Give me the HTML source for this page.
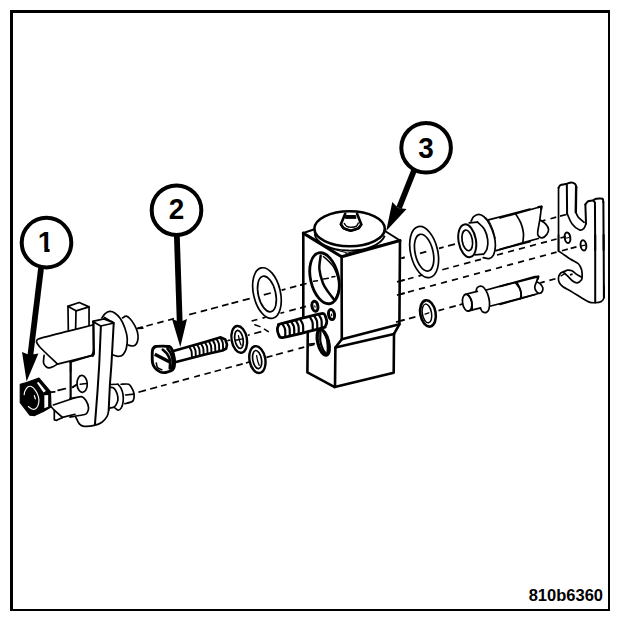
<!DOCTYPE html>
<html lang="en"><head><meta charset="utf-8"><title>810b6360</title>
<style>
html,body{margin:0;padding:0;background:#fff}
body{width:640px;height:626px;overflow:hidden;position:relative;font-family:"Liberation Sans",sans-serif}
svg{position:absolute;left:0;top:0;display:block}
text{font-family:"Liberation Sans",sans-serif;font-weight:bold;fill:#000}
</style></head><body>
<svg width="640" height="626" viewBox="0 0 640 626">
<rect x="0" y="0" width="640" height="626" fill="#fff"/>
<defs><clipPath id="c1"><rect x="-12" y="-26" width="24" height="22.5"/><rect x="-1.2" y="-26" width="5.6" height="30"/></clipPath></defs>
<path d="M10 10H610V611H10Z M13 13V609H608V13Z" fill="#000" fill-rule="evenodd"/>
<path d="M137.7 328.3 L142.8 326.946" fill="none" stroke="#000" stroke-width="1.7" stroke-linejoin="round" stroke-linecap="butt"/>
<path d="M146.4 325.99 L152.8 324.291" fill="none" stroke="#000" stroke-width="1.7" stroke-linejoin="round" stroke-linecap="butt"/>
<path d="M157.3 323.096 L163.6 321.424" fill="none" stroke="#000" stroke-width="1.7" stroke-linejoin="round" stroke-linecap="butt"/>
<path d="M168.1 320.229 L174 318.662" fill="none" stroke="#000" stroke-width="1.7" stroke-linejoin="round" stroke-linecap="butt"/>
<path d="M189.2 314.627 L196.2 312.768" fill="none" stroke="#000" stroke-width="1.7" stroke-linejoin="round" stroke-linecap="butt"/>
<path d="M200.7 311.574 L207.1 309.874" fill="none" stroke="#000" stroke-width="1.7" stroke-linejoin="round" stroke-linecap="butt"/>
<path d="M211 308.839 L218 306.98" fill="none" stroke="#000" stroke-width="1.7" stroke-linejoin="round" stroke-linecap="butt"/>
<path d="M222 305.918 L228.5 304.193" fill="none" stroke="#000" stroke-width="1.7" stroke-linejoin="round" stroke-linecap="butt"/>
<path d="M231.5 303.396 L238.2 301.617" fill="none" stroke="#000" stroke-width="1.7" stroke-linejoin="round" stroke-linecap="butt"/>
<path d="M242.7 300.423 L249.7 298.564" fill="none" stroke="#000" stroke-width="1.7" stroke-linejoin="round" stroke-linecap="butt"/>
<path d="M263.8 294.82 L270.8 292.962" fill="none" stroke="#000" stroke-width="1.7" stroke-linejoin="round" stroke-linecap="butt"/>
<path d="M281.6 290.095 L285.5 289.059" fill="none" stroke="#000" stroke-width="1.7" stroke-linejoin="round" stroke-linecap="butt"/>
<path d="M290 287.864 L296.3 286.192" fill="none" stroke="#000" stroke-width="1.7" stroke-linejoin="round" stroke-linecap="butt"/>
<path d="M300.2 285.156 L306.6 283.457" fill="none" stroke="#000" stroke-width="1.7" stroke-linejoin="round" stroke-linecap="butt"/>
<path d="M401.4 258.288 L404.6 257.438" fill="none" stroke="#000" stroke-width="1.7" stroke-linejoin="round" stroke-linecap="butt"/>
<path d="M420 253.349 L426.3 251.677" fill="none" stroke="#000" stroke-width="1.7" stroke-linejoin="round" stroke-linecap="butt"/>
<path d="M439 248.305 L443.6 247.084" fill="none" stroke="#000" stroke-width="1.7" stroke-linejoin="round" stroke-linecap="butt"/>
<path d="M448 245.915 L455 244.057" fill="none" stroke="#000" stroke-width="1.7" stroke-linejoin="round" stroke-linecap="butt"/>
<path d="M541 221.224 L545.4 220.056" fill="none" stroke="#000" stroke-width="1.7" stroke-linejoin="round" stroke-linecap="butt"/>
<path d="M550.5 218.702 L556.2 217.188" fill="none" stroke="#000" stroke-width="1.7" stroke-linejoin="round" stroke-linecap="butt"/>
<path d="M560 216.179 L566.5 214.454" fill="none" stroke="#000" stroke-width="1.7" stroke-linejoin="round" stroke-linecap="butt"/>
<path d="M138.4 392.2 L146 390.133" fill="none" stroke="#000" stroke-width="1.7" stroke-linejoin="round" stroke-linecap="butt"/>
<path d="M150.1 389.018 L157.1 387.114" fill="none" stroke="#000" stroke-width="1.7" stroke-linejoin="round" stroke-linecap="butt"/>
<path d="M161 386.053 L166.7 384.502" fill="none" stroke="#000" stroke-width="1.7" stroke-linejoin="round" stroke-linecap="butt"/>
<path d="M172.5 382.925 L178.9 381.184" fill="none" stroke="#000" stroke-width="1.7" stroke-linejoin="round" stroke-linecap="butt"/>
<path d="M182.7 380.15 L189.1 378.41" fill="none" stroke="#000" stroke-width="1.7" stroke-linejoin="round" stroke-linecap="butt"/>
<path d="M194.2 377.022 L200 375.445" fill="none" stroke="#000" stroke-width="1.7" stroke-linejoin="round" stroke-linecap="butt"/>
<path d="M204.4 374.248 L210.8 372.507" fill="none" stroke="#000" stroke-width="1.7" stroke-linejoin="round" stroke-linecap="butt"/>
<path d="M214.6 371.474 L221 369.733" fill="none" stroke="#000" stroke-width="1.7" stroke-linejoin="round" stroke-linecap="butt"/>
<path d="M225.4 368.536 L231.8 366.795" fill="none" stroke="#000" stroke-width="1.7" stroke-linejoin="round" stroke-linecap="butt"/>
<path d="M236.3 365.571 L242.7 363.83" fill="none" stroke="#000" stroke-width="1.7" stroke-linejoin="round" stroke-linecap="butt"/>
<path d="M245.9 362.96 L249.7 361.926" fill="none" stroke="#000" stroke-width="1.7" stroke-linejoin="round" stroke-linecap="butt"/>
<path d="M266.4 357.384 L272.5 355.725" fill="none" stroke="#000" stroke-width="1.7" stroke-linejoin="round" stroke-linecap="butt"/>
<path d="M276 354.773 L282.8 352.923" fill="none" stroke="#000" stroke-width="1.7" stroke-linejoin="round" stroke-linecap="butt"/>
<path d="M287.6 351.618 L293.3 350.067" fill="none" stroke="#000" stroke-width="1.7" stroke-linejoin="round" stroke-linecap="butt"/>
<path d="M298.5 348.653 L304.2 347.102" fill="none" stroke="#000" stroke-width="1.7" stroke-linejoin="round" stroke-linecap="butt"/>
<path d="M309.3 345.715 L314.4 344.328" fill="none" stroke="#000" stroke-width="1.7" stroke-linejoin="round" stroke-linecap="butt"/>
<path d="M401.4 320.664 L404.6 319.794" fill="none" stroke="#000" stroke-width="1.7" stroke-linejoin="round" stroke-linecap="butt"/>
<path d="M409 318.597 L415.4 316.856" fill="none" stroke="#000" stroke-width="1.7" stroke-linejoin="round" stroke-linecap="butt"/>
<path d="M438.5 310.573 L444.2 309.022" fill="none" stroke="#000" stroke-width="1.7" stroke-linejoin="round" stroke-linecap="butt"/>
<path d="M449.3 307.635 L455.7 305.894" fill="none" stroke="#000" stroke-width="1.7" stroke-linejoin="round" stroke-linecap="butt"/>
<path d="M459.5 304.861 L463.4 303.8" fill="none" stroke="#000" stroke-width="1.7" stroke-linejoin="round" stroke-linecap="butt"/>
<path d="M540.3 282.883 L544.7 281.686" fill="none" stroke="#000" stroke-width="1.7" stroke-linejoin="round" stroke-linecap="butt"/>
<path d="M549.4 280.408 L555.5 278.749" fill="none" stroke="#000" stroke-width="1.7" stroke-linejoin="round" stroke-linecap="butt"/>
<path d="M570 274.805 L572.6 274.098" fill="none" stroke="#000" stroke-width="1.7" stroke-linejoin="round" stroke-linecap="butt"/>
<path d="M251.6 321.02 L257.4 319.459" fill="none" stroke="#000" stroke-width="1.7" stroke-linejoin="round" stroke-linecap="butt"/>
<path d="M262.5 318.088 L265.7 317.227" fill="none" stroke="#000" stroke-width="1.7" stroke-linejoin="round" stroke-linecap="butt"/>
<path d="M280.4 313.272 L284.2 312.25" fill="none" stroke="#000" stroke-width="1.7" stroke-linejoin="round" stroke-linecap="butt"/>
<path d="M289.3 310.878 L295.7 309.157" fill="none" stroke="#000" stroke-width="1.7" stroke-linejoin="round" stroke-linecap="butt"/>
<path d="M300.2 307.946 L306 306.386" fill="none" stroke="#000" stroke-width="1.7" stroke-linejoin="round" stroke-linecap="butt"/>
<path d="M401.4 280.723 L404.6 279.863" fill="none" stroke="#000" stroke-width="1.7" stroke-linejoin="round" stroke-linecap="butt"/>
<path d="M408 278.948 L413.5 277.469" fill="none" stroke="#000" stroke-width="1.7" stroke-linejoin="round" stroke-linecap="butt"/>
<path d="M418.5 276.124 L422.5 275.048" fill="none" stroke="#000" stroke-width="1.7" stroke-linejoin="round" stroke-linecap="butt"/>
<path d="M442.3 269.721 L448.7 268" fill="none" stroke="#000" stroke-width="1.7" stroke-linejoin="round" stroke-linecap="butt"/>
<path d="M453.2 266.789 L459 265.229" fill="none" stroke="#000" stroke-width="1.7" stroke-linejoin="round" stroke-linecap="butt"/>
<path d="M464 263.884 L470.4 262.162" fill="none" stroke="#000" stroke-width="1.7" stroke-linejoin="round" stroke-linecap="butt"/>
<path d="M475 260.925 L481 259.311" fill="none" stroke="#000" stroke-width="1.7" stroke-linejoin="round" stroke-linecap="butt"/>
<path d="M497 255.007 L503 253.393" fill="none" stroke="#000" stroke-width="1.7" stroke-linejoin="round" stroke-linecap="butt"/>
<path d="M508 252.048 L514 250.434" fill="none" stroke="#000" stroke-width="1.7" stroke-linejoin="round" stroke-linecap="butt"/>
<path d="M519 249.089 L525 247.475" fill="none" stroke="#000" stroke-width="1.7" stroke-linejoin="round" stroke-linecap="butt"/>
<path d="M530 246.13 L536 244.516" fill="none" stroke="#000" stroke-width="1.7" stroke-linejoin="round" stroke-linecap="butt"/>
<path d="M541 243.171 L547 241.557" fill="none" stroke="#000" stroke-width="1.7" stroke-linejoin="round" stroke-linecap="butt"/>
<path d="M551 240.481 L556.6 238.975" fill="none" stroke="#000" stroke-width="1.7" stroke-linejoin="round" stroke-linecap="butt"/>
<path d="M560.4 237.952 L566 236.446" fill="none" stroke="#000" stroke-width="1.7" stroke-linejoin="round" stroke-linecap="butt"/>
<path d="M227.4 340.729 L230 340.03" fill="none" stroke="#000" stroke-width="1.7" stroke-linejoin="round" stroke-linecap="butt"/>
<path d="M247.8 335.242 L249.7 334.731" fill="none" stroke="#000" stroke-width="1.7" stroke-linejoin="round" stroke-linecap="butt"/>
<path d="M254.2 333.52 L261.2 331.637" fill="none" stroke="#000" stroke-width="1.7" stroke-linejoin="round" stroke-linecap="butt"/>
<path d="M401.4 293.923 L404.6 293.063" fill="none" stroke="#000" stroke-width="1.7" stroke-linejoin="round" stroke-linecap="butt"/>
<path d="M408 292.148 L414 290.534" fill="none" stroke="#000" stroke-width="1.7" stroke-linejoin="round" stroke-linecap="butt"/>
<path d="M419 289.189 L425 287.575" fill="none" stroke="#000" stroke-width="1.7" stroke-linejoin="round" stroke-linecap="butt"/>
<path d="M430 286.23 L436 284.616" fill="none" stroke="#000" stroke-width="1.7" stroke-linejoin="round" stroke-linecap="butt"/>
<path d="M441 283.271 L447 281.657" fill="none" stroke="#000" stroke-width="1.7" stroke-linejoin="round" stroke-linecap="butt"/>
<path d="M452 280.312 L458 278.698" fill="none" stroke="#000" stroke-width="1.7" stroke-linejoin="round" stroke-linecap="butt"/>
<path d="M463 277.353 L469 275.739" fill="none" stroke="#000" stroke-width="1.7" stroke-linejoin="round" stroke-linecap="butt"/>
<path d="M474 274.394 L480 272.78" fill="none" stroke="#000" stroke-width="1.7" stroke-linejoin="round" stroke-linecap="butt"/>
<path d="M485 271.435 L491 269.821" fill="none" stroke="#000" stroke-width="1.7" stroke-linejoin="round" stroke-linecap="butt"/>
<path d="M496 268.476 L502 266.862" fill="none" stroke="#000" stroke-width="1.7" stroke-linejoin="round" stroke-linecap="butt"/>
<path d="M507 265.517 L513 263.903" fill="none" stroke="#000" stroke-width="1.7" stroke-linejoin="round" stroke-linecap="butt"/>
<path d="M518 262.558 L524 260.944" fill="none" stroke="#000" stroke-width="1.7" stroke-linejoin="round" stroke-linecap="butt"/>
<path d="M529 259.599 L535 257.985" fill="none" stroke="#000" stroke-width="1.7" stroke-linejoin="round" stroke-linecap="butt"/>
<path d="M540 256.64 L546 255.026" fill="none" stroke="#000" stroke-width="1.7" stroke-linejoin="round" stroke-linecap="butt"/>
<path d="M551 253.681 L556.6 252.175" fill="none" stroke="#000" stroke-width="1.7" stroke-linejoin="round" stroke-linecap="butt"/>
<path d="M562 250.722 L567.8 249.162" fill="none" stroke="#000" stroke-width="1.7" stroke-linejoin="round" stroke-linecap="butt"/>
<path d="M570.7 248.382 L576.5 246.822" fill="none" stroke="#000" stroke-width="1.7" stroke-linejoin="round" stroke-linecap="butt"/>
<path d="M254.8 324.7 L260 326.6" fill="none" stroke="#000" stroke-width="1.5" stroke-linejoin="round" stroke-linecap="round"/>
<path d="M264.4 329.2 L268.3 331.7" fill="none" stroke="#000" stroke-width="1.5" stroke-linejoin="round" stroke-linecap="round"/>
<path d="M72.6 387.3 L76.4 384.8" fill="none" stroke="#000" stroke-width="1.5" stroke-linejoin="round" stroke-linecap="round"/>
<path d="M67.7 306.36 L79.2 302.52 L89.04 306.87 L76.01 310.83 Z" fill="#fff" stroke="#000" stroke-width="1.7" stroke-linejoin="round" stroke-linecap="round"/>
<path d="M67.96 306.36 L68.34 330.89" fill="none" stroke="#000" stroke-width="1.7" stroke-linejoin="round" stroke-linecap="round"/>
<path d="M76.01 310.83 L75.62 328.59" fill="none" stroke="#000" stroke-width="1.7" stroke-linejoin="round" stroke-linecap="round"/>
<path d="M89.04 306.87 L89.04 325.14" fill="none" stroke="#000" stroke-width="1.7" stroke-linejoin="round" stroke-linecap="round"/>
<path d="M92.62 325.02 C89.79 325.74 74.45 329.60 68.34 331.15 C62.23 332.70 43.87 337.27 40.22 338.31 C36.57 339.35 37.45 339.62 37.03 340.1 C36.61 340.58 36.28 341.54 36.65 342.4 C37.02 343.26 37.79 344.98 40.22 347.51 C42.65 350.04 55.47 362.18 57.48 364.12" fill="none" stroke="#000" stroke-width="1.7" stroke-linejoin="round" stroke-linecap="round"/>
<path d="M57.48 364.12 L92.62 355.43" fill="none" stroke="#000" stroke-width="1.7" stroke-linejoin="round" stroke-linecap="round"/>
<path d="M44.06 355.43 C43.98 356.67 43.23 360.96 43.55 362.84 C43.87 364.71 45.03 365.83 45.97 366.68 C46.91 367.53 48.00 367.96 49.17 367.96 C50.34 367.96 51.62 367.32 53 366.68 C54.38 366.04 56.73 364.55 57.48 364.12" fill="none" stroke="#000" stroke-width="1.7" stroke-linejoin="round" stroke-linecap="round"/>
<path d="M70.64 362.84 L70.64 371.79" fill="none" stroke="#000" stroke-width="1.7" stroke-linejoin="round" stroke-linecap="round"/>
<path d="M92.75 321.44 L103.87 318.88 L114.09 322.97 L100.67 326.04 Z" fill="none" stroke="#000" stroke-width="1.7" stroke-linejoin="round" stroke-linecap="round"/>
<path d="M93.39 321.69 L93.77 353.9 L92.75 355.69" fill="none" stroke="#000" stroke-width="2.4" stroke-linejoin="round" stroke-linecap="round"/>
<path d="M101.95 317.86 C102.48 317.16 103.86 314.70 105.14 313.64 C106.42 312.57 108.02 311.58 109.62 311.47 C111.22 311.36 112.92 311.79 114.73 313 C116.54 314.21 118.78 316.19 120.48 318.75 C122.18 321.31 123.82 325.04 124.95 328.34 C126.08 331.64 127.04 335.15 127.25 338.56 C127.46 341.97 126.93 346.13 126.23 348.79 C125.53 351.45 124.32 353.26 123.04 354.54 C121.76 355.82 120.27 356.39 118.56 356.45 C116.86 356.51 113.77 355.18 112.81 354.92" fill="none" stroke="#000" stroke-width="1.7" stroke-linejoin="round" stroke-linecap="round"/>
<path d="M122.65 317.86 C123.25 317.58 125.00 316.05 126.23 316.2 C127.47 316.35 128.68 317.26 130.06 318.75 C131.44 320.24 133.30 322.90 134.54 325.14 C135.78 327.38 136.90 329.93 137.48 332.17 C138.06 334.41 138.16 336.64 137.99 338.56 C137.82 340.48 137.24 342.44 136.45 343.67 C135.66 344.91 134.64 345.71 133.26 345.97 C131.88 346.23 129.00 345.34 128.15 345.21" fill="none" stroke="#000" stroke-width="1.7" stroke-linejoin="round" stroke-linecap="round"/>
<path d="M137.73 328.34 L142.84 328.08" fill="none" stroke="#000" stroke-width="1.7" stroke-linejoin="round" stroke-linecap="round"/>
<path d="M104.38 317.44 C104.94 317.78 106.29 318.66 107.73 319.46 C109.17 320.26 112.12 321.78 113 322.24" fill="none" stroke="#000" stroke-width="1.7" stroke-linejoin="round" stroke-linecap="round"/>
<path d="M100.9 326 L99.2 365 L97.6 390 L94.9 424.8" fill="none" stroke="#000" stroke-width="2" stroke-linejoin="round" stroke-linecap="round"/>
<path d="M113.7 323.5 L111.4 365 L109.9 384.5 L108.7 410" fill="none" stroke="#000" stroke-width="2" stroke-linejoin="round" stroke-linecap="round"/>
<path d="M108.72 410.06 C108.44 411.12 108.19 414.43 107.06 416.45 C105.93 418.47 104.08 420.71 101.95 422.2 C99.82 423.69 97.26 424.72 94.28 425.4 C91.30 426.08 86.51 426.50 84.06 426.29 C81.61 426.08 80.97 425.65 79.58 424.12 C78.19 422.59 76.39 418.26 75.75 417.09" fill="none" stroke="#000" stroke-width="1.7" stroke-linejoin="round" stroke-linecap="round"/>
<path d="M70 362.14 L91.98 355.37 L94.03 350" fill="none" stroke="#000" stroke-width="1.7" stroke-linejoin="round" stroke-linecap="round"/>
<path d="M70.64 362.14 L70.64 398.56" fill="none" stroke="#000" stroke-width="2.2" stroke-linejoin="round" stroke-linecap="round"/>
<ellipse cx="82.14" cy="383.87" rx="5.11" ry="8.43" transform="rotate(-3 82.14 383.87)" fill="none" stroke="#000" stroke-width="1.7"/>
<path d="M80.22 384.25 L86.61 383.48" fill="none" stroke="#000" stroke-width="1.7" stroke-linejoin="round" stroke-linecap="round"/>
<path d="M72.56 387.32 L76.39 384.76" fill="none" stroke="#000" stroke-width="1.7" stroke-linejoin="round" stroke-linecap="round"/>
<path d="M70 398.56 C71.15 398.37 79.90 396.46 81.5 396.65 C83.10 396.84 85.27 399.39 85.97 400.48 C86.67 401.57 88.40 406.30 88.53 407.51 C88.66 408.72 87.63 411.92 87.25 412.62 C86.87 413.32 86.42 414.09 84.7 414.54 C82.98 414.99 71.47 416.83 70 417.09" fill="none" stroke="#000" stroke-width="1.7" stroke-linejoin="round" stroke-linecap="round"/>
<path d="M109.87 384.5 L117.92 384.25" fill="none" stroke="#000" stroke-width="1.7" stroke-linejoin="round" stroke-linecap="round"/>
<path d="M110.89 387.32 C111.42 387.49 113.07 387.32 114.09 388.34 C115.11 389.36 116.39 391.53 117.03 393.45 C117.67 395.37 118.09 397.92 117.92 399.84 C117.75 401.76 116.65 403.78 116.01 404.95 C115.37 406.12 114.41 406.55 114.09 406.87" fill="none" stroke="#000" stroke-width="1.7" stroke-linejoin="round" stroke-linecap="round"/>
<path d="M117.92 384.25 C118.45 384.93 120.27 386.59 121.12 388.34 C121.97 390.09 122.72 392.39 123.04 394.73 C123.36 397.07 123.36 400.16 123.04 402.4 C122.72 404.64 121.97 406.87 121.12 408.15 C120.27 409.43 119.09 410.17 117.92 410.06 C116.75 409.95 115.47 407.83 114.09 407.51 C112.71 407.19 110.37 408.04 109.62 408.15" fill="none" stroke="#000" stroke-width="1.7" stroke-linejoin="round" stroke-linecap="round"/>
<path d="M121.12 384.25 C121.89 384.25 127.64 383.71 128.79 384.25 C129.94 384.79 132.08 388.57 132.62 389.62 C133.16 390.67 134.09 393.64 134.15 394.73 C134.21 395.82 133.67 399.71 133.26 400.48 C132.85 401.25 130.89 402.08 130.06 402.4 C129.23 402.72 125.46 403.54 124.95 403.67" fill="none" stroke="#000" stroke-width="1.7" stroke-linejoin="round" stroke-linecap="round"/>
<path d="M125.59 394.98 L133.9 394.09" fill="none" stroke="#000" stroke-width="1.7" stroke-linejoin="round" stroke-linecap="round"/>
<path d="M53.34 404.98 L75 397.8" fill="none" stroke="#000" stroke-width="1.7" stroke-linejoin="round" stroke-linecap="round"/>
<path d="M50.65 406.23 L54.3 410.26 L62.44 417.44" fill="none" stroke="#000" stroke-width="1.7" stroke-linejoin="round" stroke-linecap="round"/>
<path d="M54.3 410.26 L54.3 419.84 L56.69 420.32 L62.44 417.44" fill="none" stroke="#000" stroke-width="1.7" stroke-linejoin="round" stroke-linecap="round"/>
<path d="M62.44 417.44 L75 414.28" fill="none" stroke="#000" stroke-width="1.7" stroke-linejoin="round" stroke-linecap="round"/>
<path d="M20.27 384.38 L26.5 382.46 L38.96 378.15 L50.46 391.57 L50.94 406.9 L43.75 411.21 L34.65 415.53 L29.86 415.05 L20.27 402.59 Z" fill="#000" stroke="#000" stroke-width="1.2" stroke-linejoin="round" stroke-linecap="round"/>
<path d="M36.85 382.65 L38.58 382.08 L45.86 391.09 L43.56 392.62 Z" fill="#fff" stroke="none" stroke-width="0" stroke-linejoin="round" stroke-linecap="round"/>
<path d="M44.33 395.21 L48.16 395.11 L48.16 406.81 L44.33 408.34 Z" fill="#fff" stroke="none" stroke-width="0" stroke-linejoin="round" stroke-linecap="round"/>
<path d="M28.42 406.61 C29.14 407.06 31.37 409.08 32.73 409.3 C34.09 409.52 35.56 409.08 36.57 407.96 C37.58 406.84 38.45 404.44 38.77 402.59 C39.09 400.74 39.01 398.84 38.48 396.84 C37.95 394.84 36.81 392.34 35.61 390.61 C34.41 388.88 32.65 387.05 31.29 386.49 C29.93 385.93 28.55 386.40 27.46 387.25 C26.38 388.10 25.32 390.32 24.78 391.57 C24.24 392.82 24.30 394.20 24.2 394.73" fill="none" stroke="#fff" stroke-width="1.15" stroke-linejoin="round" stroke-linecap="round"/>
<path d="M34.36 395.69 L35.32 398.95" fill="none" stroke="#fff" stroke-width="1.2" stroke-linejoin="round" stroke-linecap="round"/>
<path d="M50.94 392.04 L54.78 391.85" fill="none" stroke="#000" stroke-width="1.7" stroke-linejoin="round" stroke-linecap="round"/>
<path d="M58.13 390.32 L65.32 388.69" fill="none" stroke="#000" stroke-width="1.7" stroke-linejoin="round" stroke-linecap="round"/>
<path d="M172.5 351.2 L205 342 L220.8 337.3 L225.3 339.5 L227 344.5 L226.2 348.5 L222.5 350.6 L205 354.6 L175 362.3 Z" fill="#fff" stroke="#000" stroke-width="2.6" stroke-linejoin="round" stroke-linecap="round"/>
<path d="M189.5 347.28 C189.83 347.95 191.10 349.53 191.5 351.28 C191.90 353.03 191.83 356.70 191.9 357.78" fill="none" stroke="#000" stroke-width="1.9" stroke-linejoin="round" stroke-linecap="round"/>
<path d="M193.4 346.18 C193.73 346.85 195.00 348.43 195.4 350.18 C195.80 351.93 195.73 355.60 195.8 356.68" fill="none" stroke="#000" stroke-width="1.9" stroke-linejoin="round" stroke-linecap="round"/>
<path d="M197.3 345.08 C197.63 345.75 198.90 347.33 199.3 349.08 C199.70 350.83 199.63 354.50 199.7 355.58" fill="none" stroke="#000" stroke-width="1.9" stroke-linejoin="round" stroke-linecap="round"/>
<path d="M201.2 343.97 C201.53 344.64 202.80 346.22 203.2 347.97 C203.60 349.72 203.53 353.39 203.6 354.47" fill="none" stroke="#000" stroke-width="1.9" stroke-linejoin="round" stroke-linecap="round"/>
<path d="M205.1 342.87 C205.43 343.54 206.70 345.12 207.1 346.87 C207.50 348.62 207.43 352.29 207.5 353.37" fill="none" stroke="#000" stroke-width="1.9" stroke-linejoin="round" stroke-linecap="round"/>
<path d="M209 341.76 C209.33 342.43 210.60 344.01 211 345.76 C211.40 347.51 211.33 351.18 211.4 352.26" fill="none" stroke="#000" stroke-width="1.9" stroke-linejoin="round" stroke-linecap="round"/>
<path d="M212.9 340.66 C213.23 341.33 214.50 342.91 214.9 344.66 C215.30 346.41 215.23 350.08 215.3 351.16" fill="none" stroke="#000" stroke-width="1.9" stroke-linejoin="round" stroke-linecap="round"/>
<path d="M216.8 339.56 C217.13 340.23 218.40 341.81 218.8 343.56 C219.20 345.31 219.13 348.98 219.2 350.06" fill="none" stroke="#000" stroke-width="1.9" stroke-linejoin="round" stroke-linecap="round"/>
<path d="M220.7 338.45 C221.03 339.12 222.30 340.70 222.7 342.45 C223.10 344.20 223.03 347.87 223.1 348.95" fill="none" stroke="#000" stroke-width="1.9" stroke-linejoin="round" stroke-linecap="round"/>
<path d="M152.48 350.32 C152.86 348.44 153.81 346.94 155.73 346.49 C157.65 346.04 167.02 346.01 168.96 346.49 C170.90 346.97 171.67 348.84 172.32 350.61 C172.97 352.38 174.42 359.47 174.52 361.63 C174.62 363.79 174.22 367.85 173.18 369.11 C172.14 370.37 167.11 372.13 165.61 372.46 C164.11 372.79 161.56 372.48 160.34 371.98 C159.12 371.48 156.08 369.25 155.16 368.15 C154.24 367.05 152.79 364.67 152.48 362.59 C152.17 360.51 152.10 352.20 152.48 350.32 Z" fill="#fff" stroke="#000" stroke-width="2.9" stroke-linejoin="round" stroke-linecap="round"/>
<path d="M154.78 354.15 L170.69 362.4" fill="none" stroke="#000" stroke-width="3.4" stroke-linejoin="round" stroke-linecap="butt"/>
<path d="M162.73 349.65 C163.53 350.45 166.29 352.60 167.52 354.44 C168.75 356.28 169.74 358.35 170.11 360.67 C170.48 362.99 169.79 367.06 169.73 368.34" fill="none" stroke="#000" stroke-width="2.6" stroke-linejoin="round" stroke-linecap="round"/>
<path d="M167.52 348.69 C168.11 349.57 170.19 351.80 171.07 353.96 C171.95 356.12 172.67 359.23 172.8 361.63 C172.93 364.03 172.00 367.22 171.84 368.34" fill="none" stroke="#000" stroke-width="2.6" stroke-linejoin="round" stroke-linecap="round"/>
<path d="M156.31 363.07 C156.50 363.79 156.55 366.26 157.46 367.38 C158.37 368.50 161.05 369.38 161.77 369.78" fill="none" stroke="#000" stroke-width="1.6" stroke-linejoin="round" stroke-linecap="round"/>
<ellipse cx="239.25" cy="339.39" rx="7.67" ry="13.55" transform="rotate(-10 239.25 339.39)" fill="#fff" stroke="#000" stroke-width="2.4"/>
<ellipse cx="238.99" cy="339.39" rx="4.09" ry="9.20" transform="rotate(-10 238.99 339.39)" fill="#fff" stroke="#000" stroke-width="1.7"/>
<path d="M238.48 335.56 C238.65 336.41 239.07 339.07 239.5 340.67 C239.93 342.27 240.78 344.39 241.04 345.14" fill="none" stroke="#000" stroke-width="1.3" stroke-linejoin="round" stroke-linecap="round"/>
<ellipse cx="257.4" cy="359.58" rx="7.92" ry="13.55" transform="rotate(-10 257.4 359.58)" fill="#fff" stroke="#000" stroke-width="2.4"/>
<ellipse cx="257.14" cy="359.58" rx="4.35" ry="9.20" transform="rotate(-10 257.14 359.58)" fill="#fff" stroke="#000" stroke-width="1.7"/>
<path d="M256.63 355.75 C256.80 356.60 257.22 359.26 257.65 360.86 C258.08 362.46 258.93 364.59 259.19 365.34" fill="none" stroke="#000" stroke-width="1.3" stroke-linejoin="round" stroke-linecap="round"/>
<path d="M235.67 340.16 L242.7 338.88" fill="none" stroke="#000" stroke-width="1.5" stroke-linejoin="round" stroke-linecap="round"/>
<ellipse cx="266.95" cy="293.08" rx="13.42" ry="25.81" transform="rotate(-13 266.95 293.08)" fill="none" stroke="#000" stroke-width="1.7"/>
<ellipse cx="266.95" cy="293.98" rx="8.69" ry="18.15" transform="rotate(-13 266.95 293.98)" fill="none" stroke="#000" stroke-width="1.7"/>
<ellipse cx="424.14" cy="252.06" rx="13.55" ry="26.07" transform="rotate(-13 424.14 252.06)" fill="none" stroke="#000" stroke-width="1.7"/>
<ellipse cx="424.14" cy="252.7" rx="8.95" ry="18.79" transform="rotate(-13 424.14 252.7)" fill="none" stroke="#000" stroke-width="1.7"/>
<ellipse cx="427.97" cy="313.45" rx="7.67" ry="13.29" transform="rotate(-10 427.97 313.45)" fill="#fff" stroke="#000" stroke-width="2.6"/>
<ellipse cx="426.95" cy="313.45" rx="4.60" ry="9.46" transform="rotate(-10 426.95 313.45)" fill="#fff" stroke="#000" stroke-width="1.5"/>
<path d="M425.03 314.09 L428.87 312.81" fill="none" stroke="#000" stroke-width="1.3" stroke-linejoin="round" stroke-linecap="round"/>
<path d="M303.3 233 L314 229 L385 231 L400 240.5 L399.4 324.3 L394 333.9 L393.7 372.8 L334.7 387.1 L307.4 372.4 L307.8 330 L303.3 330 Z" fill="#fff" stroke="none" stroke-width="0" stroke-linejoin="round" stroke-linecap="round"/>
<path d="M303.3 233 L303.3 318" fill="none" stroke="#000" stroke-width="2.6" stroke-linejoin="round" stroke-linecap="round"/>
<path d="M307.8 330 L307.4 372.4 L334.7 387.1 L393.7 372.8 L394 333.9" fill="none" stroke="#000" stroke-width="2.6" stroke-linejoin="round" stroke-linecap="round"/>
<path d="M303.3 233.2 L341.6 256.8 L400 240.5" fill="none" stroke="#000" stroke-width="3" stroke-linejoin="round" stroke-linecap="round"/>
<path d="M341.6 256.8 L341.8 339.2 L335.4 347.5 L335 387" fill="none" stroke="#000" stroke-width="2.6" stroke-linejoin="round" stroke-linecap="round"/>
<path d="M400 240.5 L399.4 324.3 L394 333.9" fill="none" stroke="#000" stroke-width="2.6" stroke-linejoin="round" stroke-linecap="round"/>
<path d="M341.8 339.2 L399.4 324.3" fill="none" stroke="#000" stroke-width="2.6" stroke-linejoin="round" stroke-linecap="round"/>
<path d="M335.4 347.5 L394 333.9" fill="none" stroke="#000" stroke-width="2.6" stroke-linejoin="round" stroke-linecap="round"/>
<path d="M385 231 L400 240.5" fill="none" stroke="#000" stroke-width="2" stroke-linejoin="round" stroke-linecap="round"/>
<path d="M303.3 233 L314.5 229.3" fill="none" stroke="#000" stroke-width="2" stroke-linejoin="round" stroke-linecap="round"/>
<path d="M307 234.5 L332 249 L346 252.5" fill="none" stroke="#000" stroke-width="1.2" stroke-linejoin="round" stroke-linecap="round"/>
<path d="M346 253.5 L397.5 241" fill="none" stroke="#000" stroke-width="1.2" stroke-linejoin="round" stroke-linecap="round"/>
<path d="M314.6 230 A35.3 17.8 0 0 0 384.7 232 " fill="#fff" stroke="#000" stroke-width="1.8" transform="translate(0,3.6)"/>
<ellipse cx="349.6" cy="228.8" rx="35.2" ry="17.5" fill="#fff" stroke="#000" stroke-width="2.6"/>
<path d="M345.21 213.77 C345.21 213.77 340.86 224.25 340.86 224.25 C340.86 224.25 343.67 228.34 343.67 228.34 C343.67 228.34 350.70 230.64 350.7 230.64 C350.70 230.64 358.37 228.34 358.37 228.34 C358.37 228.34 361.31 224.50 361.31 224.5 C361.31 224.50 357.09 213.77 357.09 213.77" fill="#fff" stroke="#000" stroke-width="2.6" stroke-linejoin="round" stroke-linecap="round"/>
<path d="M340.86 224.25 C341.42 225.07 341.70 227.06 343.67 228.34 C345.64 229.62 347.76 230.64 350.7 230.64 C353.64 230.64 356.25 229.57 358.37 228.34 C360.49 227.11 360.72 225.27 361.31 224.5" fill="none" stroke="#000" stroke-width="2.2" stroke-linejoin="round" stroke-linecap="round"/>
<path d="M344.31 223.48 C344.74 223.97 345.70 225.78 346.87 226.42 C348.04 227.06 349.74 227.38 351.34 227.32 C352.94 227.26 355.28 226.76 356.45 226.04 C357.62 225.31 358.05 223.48 358.37 222.97" fill="none" stroke="#000" stroke-width="1.4" stroke-linejoin="round" stroke-linecap="round"/>
<path d="M346.23 215.56 L355.69 215.56 L355.94 218.37 L345.72 218.37 Z" fill="#000" stroke="#000" stroke-width="1" stroke-linejoin="round" stroke-linecap="round"/>
<ellipse cx="324.5" cy="278.24" rx="13.93" ry="25.94" transform="rotate(-13 324.5 278.24)" fill="#fff" stroke="#000" stroke-width="2.8"/>
<path d="M320.67 255.75 C320.46 257.99 319.01 264.59 319.39 269.17 C319.77 273.75 321.48 279.40 322.97 283.23 C324.46 287.06 326.49 289.45 328.34 292.17 C330.19 294.89 333.13 298.34 334.09 299.58" fill="none" stroke="#000" stroke-width="2.5" stroke-linejoin="round" stroke-linecap="round"/>
<path d="M323.48 256.39 C325.04 257.99 330.34 262.14 332.81 265.97 C335.28 269.80 337.27 275.66 338.31 279.39 C339.35 283.12 339.62 284.97 339.07 288.34 C338.51 291.70 335.66 297.71 334.98 299.58" fill="none" stroke="#000" stroke-width="1.4" stroke-linejoin="round" stroke-linecap="round"/>
<path d="M313.64 281.31 L317.48 280.67" fill="none" stroke="#000" stroke-width="1.5" stroke-linejoin="round" stroke-linecap="round"/>
<path d="M323.48 278.88 L328.34 278.37" fill="none" stroke="#000" stroke-width="1.5" stroke-linejoin="round" stroke-linecap="round"/>
<path d="M331.92 277.09 L334.98 276.45" fill="none" stroke="#000" stroke-width="1.5" stroke-linejoin="round" stroke-linecap="round"/>
<ellipse cx="314.92" cy="306.23" rx="2.94" ry="5.11" transform="rotate(-10 314.92 306.23)" fill="#fff" stroke="#000" stroke-width="3"/>
<path d="M314.79 305.85 L315.05 307.25" fill="none" stroke="#000" stroke-width="1.2" stroke-linejoin="round" stroke-linecap="round"/>
<ellipse cx="331.53" cy="314.54" rx="2.94" ry="5.11" transform="rotate(-10 331.53 314.54)" fill="#fff" stroke="#000" stroke-width="3"/>
<path d="M331.41 314.15 L331.66 315.56" fill="none" stroke="#000" stroke-width="1.2" stroke-linejoin="round" stroke-linecap="round"/>
<ellipse cx="323.23" cy="342.36" rx="5.37" ry="13.16" transform="rotate(-14 323.23 342.36)" fill="#fff" stroke="#000" stroke-width="3.3"/>
<path d="M320.42 332.14 C320.42 333.74 319.95 338.75 320.42 341.73 C320.89 344.71 322.27 348.07 323.23 350.03 C324.19 351.99 325.68 352.91 326.17 353.48" fill="none" stroke="#000" stroke-width="2.2" stroke-linejoin="round" stroke-linecap="round"/>
<path d="M323.74 332.78 C324.23 333.84 326.04 336.72 326.68 339.17 C327.32 341.62 327.46 345.24 327.57 347.48 C327.68 349.72 327.36 351.74 327.32 352.59" fill="none" stroke="#000" stroke-width="1.8" stroke-linejoin="round" stroke-linecap="round"/>
<path d="M307.89 344.28 L314.28 343.64" fill="none" stroke="#000" stroke-width="1.6" stroke-linejoin="round" stroke-linecap="round"/>
<path d="M300.2 285.156 L306.6 283.457" fill="none" stroke="#000" stroke-width="1.7" stroke-linejoin="round" stroke-linecap="butt"/>
<path d="M300.2 307.946 L306 306.386" fill="none" stroke="#000" stroke-width="1.7" stroke-linejoin="round" stroke-linecap="butt"/>
<path d="M309.3 345.715 L314.4 344.328" fill="none" stroke="#000" stroke-width="1.7" stroke-linejoin="round" stroke-linecap="butt"/>
<path d="M401.4 258.288 L404.6 257.438" fill="none" stroke="#000" stroke-width="1.7" stroke-linejoin="round" stroke-linecap="butt"/>
<path d="M397 281.907 L404.6 279.863" fill="none" stroke="#000" stroke-width="1.7" stroke-linejoin="round" stroke-linecap="butt"/>
<path d="M397 295.107 L404.6 293.063" fill="none" stroke="#000" stroke-width="1.7" stroke-linejoin="round" stroke-linecap="butt"/>
<path d="M396 322.133 L404.6 319.794" fill="none" stroke="#000" stroke-width="1.7" stroke-linejoin="round" stroke-linecap="butt"/>
<path d="M280.56 323.87 C284.13 322.91 317.74 314.33 321.45 313.64 C325.16 312.95 324.58 314.92 325.03 315.56 C325.48 316.20 326.80 320.40 326.82 321.31 C326.84 322.22 325.63 325.88 325.29 326.42 C324.95 326.96 326.30 326.90 322.73 327.83 C319.16 328.76 286.15 336.99 282.48 337.54 C278.81 338.09 279.07 335.18 278.64 334.47 C278.21 333.76 277.36 329.76 277.36 328.98 C277.36 328.20 278.37 325.57 278.64 325.14 C278.91 324.71 276.99 324.83 280.56 323.87 Z" fill="#fff" stroke="#000" stroke-width="2.8" stroke-linejoin="round" stroke-linecap="round"/>
<path d="M282.48 324.15 C282.91 324.98 284.56 327.09 285.03 329.14 C285.50 331.19 285.25 335.21 285.29 336.42" fill="none" stroke="#000" stroke-width="2.2" stroke-linejoin="round" stroke-linecap="round"/>
<path d="M286.95 323.04 C287.38 323.87 289.03 325.98 289.5 328.02 C289.97 330.06 289.72 334.09 289.76 335.3" fill="none" stroke="#000" stroke-width="2.2" stroke-linejoin="round" stroke-linecap="round"/>
<path d="M291.42 321.92 C291.85 322.75 293.51 324.85 293.98 326.9 C294.45 328.94 294.19 332.98 294.23 334.19" fill="none" stroke="#000" stroke-width="2.2" stroke-linejoin="round" stroke-linecap="round"/>
<path d="M295.89 320.8 C296.32 321.63 297.98 323.73 298.45 325.78 C298.92 327.82 298.67 331.86 298.71 333.07" fill="none" stroke="#000" stroke-width="2.2" stroke-linejoin="round" stroke-linecap="round"/>
<path d="M300.37 319.68 C300.80 320.51 302.45 322.62 302.92 324.66 C303.39 326.71 303.14 330.74 303.18 331.95" fill="none" stroke="#000" stroke-width="2.2" stroke-linejoin="round" stroke-linecap="round"/>
<path d="M309.95 317.28 C310.38 318.11 312.04 320.22 312.51 322.27 C312.98 324.31 312.72 328.34 312.76 329.55" fill="none" stroke="#000" stroke-width="2.2" stroke-linejoin="round" stroke-linecap="round"/>
<path d="M314.42 316.17 C314.85 317.00 316.51 319.11 316.98 321.15 C317.45 323.19 317.20 327.22 317.24 328.43" fill="none" stroke="#000" stroke-width="2.2" stroke-linejoin="round" stroke-linecap="round"/>
<path d="M318.9 315.05 C319.32 315.88 320.98 317.98 321.45 320.03 C321.92 322.07 321.67 326.11 321.71 327.32" fill="none" stroke="#000" stroke-width="2.2" stroke-linejoin="round" stroke-linecap="round"/>
<path d="M488.34 219.92 L530 209.06" fill="none" stroke="#000" stroke-width="1.7" stroke-linejoin="round" stroke-linecap="round"/>
<path d="M496.01 250.59 L530 241.65" fill="none" stroke="#000" stroke-width="1.7" stroke-linejoin="round" stroke-linecap="round"/>
<path d="M515.81 214.17 C516.66 215.66 519.65 219.93 520.93 223.12 C522.21 226.31 523.16 230.10 523.48 233.34 C523.80 236.58 522.95 241.01 522.84 242.54" fill="none" stroke="#000" stroke-width="1.7" stroke-linejoin="round" stroke-linecap="round"/>
<path d="M471.09 221.2 C471.51 220.45 472.36 217.86 473.64 216.73 C474.92 215.60 477.05 214.42 478.75 214.42 C480.45 214.42 482.06 215.07 483.87 216.73 C485.68 218.39 487.92 221.20 489.62 224.39 C491.32 227.58 493.13 232.27 494.09 235.89 C495.05 239.51 495.48 242.93 495.37 246.12 C495.26 249.31 494.51 252.97 493.45 255.06 C492.38 257.15 490.68 258.21 488.98 258.64 C487.28 259.07 484.19 257.79 483.23 257.62" fill="none" stroke="#000" stroke-width="1.7" stroke-linejoin="round" stroke-linecap="round"/>
<path d="M483.87 216.73 C484.62 217.26 486.85 217.79 488.34 219.92 C489.83 222.05 491.64 226.41 492.81 229.5 C493.98 232.59 494.94 236.96 495.37 238.45" fill="none" stroke="#000" stroke-width="1" stroke-linejoin="round" stroke-linecap="round"/>
<path d="M469.17 222.86 L477.48 222.09" fill="none" stroke="#000" stroke-width="1.7" stroke-linejoin="round" stroke-linecap="round"/>
<path d="M474.92 254.81 L483.23 254.04" fill="none" stroke="#000" stroke-width="1.7" stroke-linejoin="round" stroke-linecap="round"/>
<path d="M477.48 222.09 C478.65 223.32 482.80 226.56 484.5 229.5 C486.20 232.44 487.27 236.53 487.7 239.73 C488.13 242.92 487.76 246.22 487.06 248.67 C486.36 251.12 484.08 253.46 483.48 254.42" fill="none" stroke="#000" stroke-width="1.7" stroke-linejoin="round" stroke-linecap="round"/>
<ellipse cx="467.25" cy="240.75" rx="8.69" ry="16.61" transform="rotate(-10 467.25 240.75)" fill="#fff" stroke="#000" stroke-width="2"/>
<ellipse cx="467.25" cy="240.37" rx="5.11" ry="10.48" transform="rotate(-10 467.25 240.37)" fill="#fff" stroke="#000" stroke-width="1.7"/>
<path d="M500 218 L541.53 206.5" fill="none" stroke="#000" stroke-width="1.7" stroke-linejoin="round" stroke-linecap="round"/>
<path d="M500 249.31 L522.36 242.92 L538.34 238.45" fill="none" stroke="#000" stroke-width="1.7" stroke-linejoin="round" stroke-linecap="round"/>
<path d="M541.53 206.5 C541.25 208.63 540.51 215.02 539.87 219.28 C539.23 223.54 537.96 229.29 537.7 232.06 C537.45 234.83 537.60 234.93 538.34 235.89 C539.09 236.85 540.78 238.02 542.17 237.81 C543.55 237.60 545.59 236.00 546.65 234.62 C547.71 233.24 548.67 231.21 548.56 229.5 C548.45 227.79 547.33 225.92 546.01 224.39 C544.69 222.86 541.53 220.98 540.64 220.3" fill="none" stroke="#000" stroke-width="1.7" stroke-linejoin="round" stroke-linecap="round"/>
<path d="M538.34 207.14 L541.53 206.5 L541.15 209.06" fill="none" stroke="#000" stroke-width="2.2" stroke-linejoin="round" stroke-linecap="round"/>
<path d="M486.31 290.03 L535 276.61" fill="none" stroke="#000" stroke-width="1.7" stroke-linejoin="round" stroke-linecap="round"/>
<path d="M490.78 306.01 L535 294.5" fill="none" stroke="#000" stroke-width="1.7" stroke-linejoin="round" stroke-linecap="round"/>
<path d="M515.7 283 C516.45 284.06 519.22 287.05 520.18 289.39 C521.14 291.73 521.24 295.78 521.45 297.06" fill="none" stroke="#000" stroke-width="1.7" stroke-linejoin="round" stroke-linecap="round"/>
<path d="M476.09 290.67 C476.30 290.14 476.62 288.23 477.36 287.48 C478.11 286.74 479.50 286.20 480.56 286.2 C481.62 286.20 482.58 286.20 483.75 287.48 C484.92 288.76 486.63 291.42 487.59 293.87 C488.55 296.32 489.29 299.62 489.5 302.17 C489.71 304.73 489.40 307.50 488.87 309.2 C488.34 310.90 487.38 311.97 486.31 312.4 C485.25 312.83 483.44 312.40 482.48 311.76 C481.52 311.12 480.88 309.09 480.56 308.56" fill="none" stroke="#000" stroke-width="1.7" stroke-linejoin="round" stroke-linecap="round"/>
<path d="M464.58 294.5 L477.36 291.31" fill="none" stroke="#000" stroke-width="1.7" stroke-linejoin="round" stroke-linecap="round"/>
<path d="M467.78 311.12 L480.56 307.92" fill="none" stroke="#000" stroke-width="1.7" stroke-linejoin="round" stroke-linecap="round"/>
<ellipse cx="467.14" cy="302.81" rx="4.60" ry="8.43" transform="rotate(-10 467.14 302.81)" fill="none" stroke="#000" stroke-width="1.7"/>
<path d="M468.42 295.14 C468.95 296.10 470.97 298.44 471.61 300.89 C472.25 303.34 472.14 308.35 472.25 309.84" fill="none" stroke="#000" stroke-width="1.7" stroke-linejoin="round" stroke-linecap="round"/>
<path d="M500 286.42 L538.34 276.58" fill="none" stroke="#000" stroke-width="1.7" stroke-linejoin="round" stroke-linecap="round"/>
<path d="M500 304.31 L520.45 298.56 L538.34 293.45" fill="none" stroke="#000" stroke-width="1.7" stroke-linejoin="round" stroke-linecap="round"/>
<path d="M516.61 281.95 C517.14 283.01 519.06 286.32 519.81 288.34 C520.56 290.36 520.98 292.39 521.09 294.09 C521.20 295.79 520.56 297.81 520.45 298.56" fill="none" stroke="#000" stroke-width="1.7" stroke-linejoin="round" stroke-linecap="round"/>
<path d="M538.34 276.58 C538.02 277.47 537.02 280.20 536.42 281.95 C535.82 283.70 534.76 285.46 534.76 287.06 C534.76 288.66 535.61 290.46 536.42 291.53 C537.23 292.59 538.66 293.45 539.62 293.45 C540.58 293.45 541.64 292.49 542.17 291.53 C542.70 290.57 543.13 288.98 542.81 287.7 C542.49 286.42 541.22 284.83 540.26 283.87 C539.30 282.91 537.59 282.27 537.06 281.95" fill="none" stroke="#000" stroke-width="1.7" stroke-linejoin="round" stroke-linecap="round"/>
<path d="M535.78 276.84 L538.34 276.58 L537.83 278.75" fill="none" stroke="#000" stroke-width="2.2" stroke-linejoin="round" stroke-linecap="round"/>
<path d="M558.53 250 L558.53 187.89" fill="none" stroke="#000" stroke-width="1.7" stroke-linejoin="round" stroke-linecap="round"/>
<path d="M558.53 187.89 C558.85 187.42 559.28 185.72 560.45 185.08 C561.62 184.44 563.75 184.51 565.56 184.06 C567.37 183.61 569.71 182.40 571.31 182.4 C572.91 182.40 574.29 183.25 575.14 184.06 C575.99 184.87 576.21 186.72 576.42 187.25" fill="none" stroke="#000" stroke-width="2" stroke-linejoin="round" stroke-linecap="round"/>
<path d="M576.17 187.25 L575.78 212.17" fill="none" stroke="#000" stroke-width="2.4" stroke-linejoin="round" stroke-linecap="round"/>
<path d="M566.84 184.7 L567.09 213.45" fill="none" stroke="#000" stroke-width="2" stroke-linejoin="round" stroke-linecap="round"/>
<path d="M567.09 213.45 C567.90 215.15 569.86 220.90 571.95 223.67 C574.04 226.44 577.60 229.31 579.62 230.06 C581.64 230.81 583.03 229.22 584.09 228.15 C585.15 227.09 585.69 224.42 586.01 223.67" fill="none" stroke="#000" stroke-width="1.7" stroke-linejoin="round" stroke-linecap="round"/>
<path d="M586.01 223.67 L585.37 204.5" fill="none" stroke="#000" stroke-width="2" stroke-linejoin="round" stroke-linecap="round"/>
<path d="M575.78 212.17 C576.21 213.02 576.96 215.57 578.34 217.28 C579.73 218.99 583.13 221.55 584.09 222.4" fill="none" stroke="#000" stroke-width="1.7" stroke-linejoin="round" stroke-linecap="round"/>
<path d="M585.37 204.5 C585.62 204.18 587.15 201.72 587.92 201.31 C588.69 200.90 592.21 200.68 593.04 200.42 C593.87 200.16 595.27 198.92 596.23 198.75 C597.19 198.58 601.92 198.43 602.62 198.75 C603.32 199.07 603.20 201.63 603.26 201.95" fill="none" stroke="#000" stroke-width="2" stroke-linejoin="round" stroke-linecap="round"/>
<path d="M593.04 200.42 L594.95 202.59" fill="none" stroke="#000" stroke-width="1.7" stroke-linejoin="round" stroke-linecap="round"/>
<path d="M603.39 201.95 L603.64 250" fill="none" stroke="#000" stroke-width="2" stroke-linejoin="round" stroke-linecap="round"/>
<path d="M594.95 202.59 L595.21 250" fill="none" stroke="#000" stroke-width="2" stroke-linejoin="round" stroke-linecap="round"/>
<ellipse cx="567.48" cy="237.73" rx="2.81" ry="5.37" transform="rotate(-8 567.48 237.73)" fill="none" stroke="#000" stroke-width="2"/>
<ellipse cx="583.45" cy="245.4" rx="2.81" ry="5.11" transform="rotate(-8 583.45 245.4)" fill="none" stroke="#000" stroke-width="2"/>
<path d="M565.56 238.24 L569.14 237.48" fill="none" stroke="#000" stroke-width="1.2" stroke-linejoin="round" stroke-linecap="round"/>
<path d="M581.66 245.91 L584.98 245.14" fill="none" stroke="#000" stroke-width="1.2" stroke-linejoin="round" stroke-linecap="round"/>
<path d="M558.53 235 L558.53 250.97" fill="none" stroke="#000" stroke-width="1.7" stroke-linejoin="round" stroke-linecap="round"/>
<path d="M558.53 250.97 C560.15 252.08 568.03 257.58 570.67 259.28 C573.31 260.98 576.89 262.39 578.34 263.75 C579.79 265.11 581.02 267.88 581.53 269.5 C582.04 271.12 582.17 274.53 582.17 275.89 C582.17 277.25 582.21 278.79 581.53 279.73 C580.85 280.67 578.25 282.75 577.06 282.92 C575.87 283.09 573.87 281.95 572.59 281.01 C571.31 280.07 568.76 277.08 567.48 275.89 C566.20 274.70 563.60 272.57 563 272.06" fill="none" stroke="#000" stroke-width="1.7" stroke-linejoin="round" stroke-linecap="round"/>
<path d="M581.53 277.17 C580.93 276.83 578.34 275.47 577.06 274.62 C575.78 273.77 573.23 271.38 571.95 270.78 C570.67 270.18 568.67 269.97 567.48 270.14 C566.29 270.31 563.94 271.63 563 272.06 C562.06 272.49 561.05 272.66 560.45 273.34 C559.85 274.02 558.70 275.98 558.53 277.17 C558.36 278.36 558.57 281.00 559.17 282.28 C559.77 283.56 561.30 285.48 563 286.76 C564.70 288.04 569.39 290.34 571.95 291.87 C574.51 293.40 579.87 296.90 582.17 298.26 C584.47 299.62 587.50 301.49 589.2 302.09 C590.90 302.69 593.33 302.82 594.95 302.73 C596.57 302.64 600.15 302.13 601.34 301.45 C602.53 300.77 603.56 299.66 603.9 297.62 C604.24 295.58 603.90 287.65 603.9 286.12" fill="none" stroke="#000" stroke-width="1.7" stroke-linejoin="round" stroke-linecap="round"/>
<path d="M603.64 235 L603.9 297.62" fill="none" stroke="#000" stroke-width="2" stroke-linejoin="round" stroke-linecap="round"/>
<path d="M595.21 235 L595.21 302.48" fill="none" stroke="#000" stroke-width="2" stroke-linejoin="round" stroke-linecap="round"/>
<path d="M561.09 275.89 L565.56 273.34" fill="none" stroke="#000" stroke-width="1.2" stroke-linejoin="round" stroke-linecap="round"/>
<path d="M41.3 266 L29.8 360" stroke="#000" stroke-width="5.8" fill="none"/>
<path d="M22 352 L29.5 355 L38.4 353.5 L26.6 381.5 Z" fill="#000"/>
<circle cx="46.5" cy="242.6" r="24.8" fill="#fff" stroke="#000" stroke-width="4"/>
<text transform="translate(45.5 252) scale(0.93 1)" x="0" y="0" font-size="30" text-anchor="middle" clip-path="url(#c1)">1</text>
<path d="M176.8 234 L179.8 325" stroke="#000" stroke-width="5.8" fill="none"/>
<path d="M172 319 L180 322 L187 319 L180.3 347 Z" fill="#000"/>
<circle cx="176.5" cy="210.2" r="24.8" fill="#fff" stroke="#000" stroke-width="4"/>
<text transform="translate(176.5 218.8) scale(0.93 1)" x="0" y="0" font-size="30" text-anchor="middle">2</text>
<path d="M415 168 L399 208" stroke="#000" stroke-width="5.8" fill="none"/>
<path d="M392.3 202 L398 208 L406.6 209 L386.2 231.1 Z" fill="#000"/>
<circle cx="426.1" cy="147.8" r="24.8" fill="#fff" stroke="#000" stroke-width="4"/>
<text transform="translate(426 157.6) scale(0.93 1)" x="0" y="0" font-size="30" text-anchor="middle">3</text>
<text x="603" y="601.2" font-size="16.5" text-anchor="end">810b6360</text>
</svg>
</body></html>
